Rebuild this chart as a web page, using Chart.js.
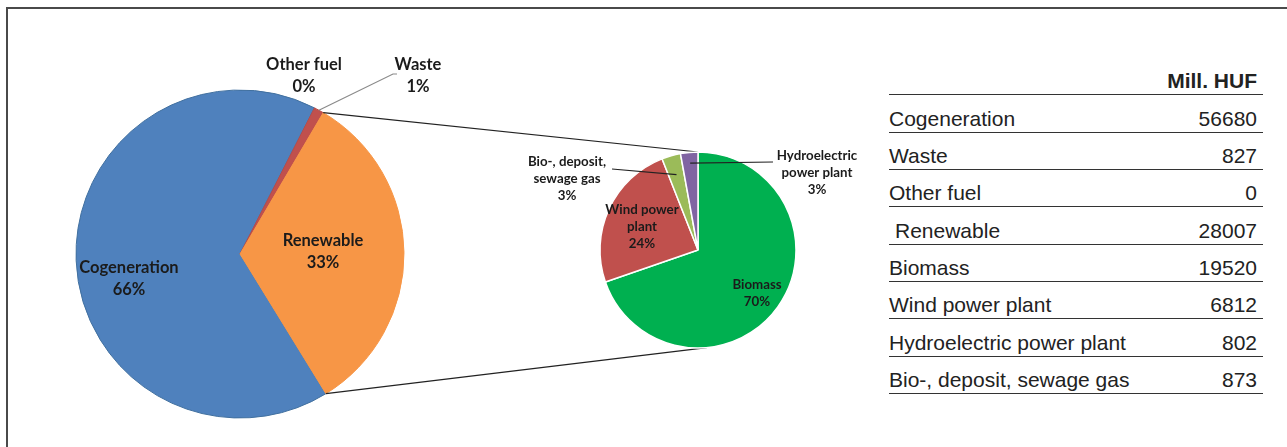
<!DOCTYPE html>
<html>
<head>
<meta charset="utf-8">
<title>Subsidy by source</title>
<script src="https://cdn.jsdelivr.net/npm/chart.js@4.4.1/dist/chart.umd.min.js"></script>
<style>
  html, body { margin: 0; padding: 0; background: #fff; }
  body { width: 1287px; height: 447px; position: relative; overflow: hidden; }
  .frame {
    position: absolute; left: 6px; top: 7px; right: 0; bottom: 0;
    border-top: 2px solid #4a4a4a; border-left: 2px solid #4a4a4a;
  }
  canvas { position: absolute; left: 0; top: 0; }
  #costTable {
    position: absolute; left: 889px; top: 58px; width: 374px;
    font-family: "Liberation Sans", Arial, sans-serif; font-size: 21px; color: #222;
  }
  #costTable .row {
    display: flex; justify-content: space-between; align-items: flex-end;
    height: 37.33px; box-sizing: border-box; border-bottom: 1.5px solid #333;
    padding: 0 6px 1px 0; line-height: 24px;
  }
  #costTable .head { font-weight: bold; justify-content: flex-end; }
</style>
</head>
<body>
<div class="frame"></div>
<canvas id="mainPie" width="880" height="447"></canvas>
<canvas id="subPie" width="880" height="447"></canvas>
<div id="costTable"></div>

<script>
const mainLabels = ['Cogeneration', 'Waste', 'Other fuel', 'Renewable'];
const mainValues = [56680, 827, 0, 28007];
const mainColors = ['#4f81bd', '#c0504d', '#9bbb59', '#f79646'];

const subLabels = ['Biomass', 'Wind power plant', 'Hydroelectric power plant', 'Bio-, deposit, sewage gas'];
const subValues = [19520, 6812, 802, 873];
const subColors = ['#00b050', '#c0504d', '#8064a2', '#9bbb59'];
// label text as it is wrapped on the small pie
const subWrapped = ['Biomass', 'Wind power\nplant', 'Hydroelectric\npower plant', 'Bio-, deposit,\nsewage gas'];
// clockwise order of the slices in the small pie
const subOrder = [0, 1, 3, 2];

const tableHeader = 'Mill. HUF';

// table on the right
const table = document.getElementById('costTable');
const head = document.createElement('div');
head.className = 'row head';
head.textContent = tableHeader;
table.appendChild(head);
mainLabels.concat(subLabels).forEach(function(name, i) {
    const row = document.createElement('div');
    row.className = 'row';
    const label = document.createElement('span');
    label.textContent = name;
    if (name === 'Renewable') label.style.paddingLeft = '6px';
    const value = document.createElement('span');
    value.textContent = mainValues.concat(subValues)[i];
    row.appendChild(label);
    row.appendChild(value);
    table.appendChild(row);
});

// point on the rim (or inside) of an arc at a given angle
function rimPoint(arc, angle, frac) {
    const r = arc.outerRadius * (frac || 1);
    return { x: arc.x + Math.cos(angle) * r, y: arc.y + Math.sin(angle) * r };
}

const sliceLabels = {
    id: 'sliceLabels',
    afterDatasetsDraw(chart, args, opts) {
        const ctx = chart.ctx;
        const meta = chart.getDatasetMeta(0);
        const values = chart.data.datasets[0].data;
        const total = values.reduce((a, b) => a + b, 0);
        ctx.save();

        // leader lines first, text on top
        ctx.lineWidth = 1.2;
        (opts.leaders || []).forEach(function(l) {
            const arc = meta.data[l.index];
            const mid = (arc.startAngle + arc.endAngle) / 2;
            const p = rimPoint(arc, mid, l.frac);
            ctx.strokeStyle = l.color;
            ctx.beginPath();
            ctx.moveTo(arc.x + l.from[0], arc.y + l.from[1]);
            if (l.via) ctx.lineTo(arc.x + l.via[0], arc.y + l.via[1]);
            ctx.lineTo(p.x, p.y);
            ctx.stroke();
        });

        ctx.font = opts.font;
        ctx.fillStyle = '#1b1b1b';
        ctx.textAlign = 'center';
        ctx.textBaseline = 'middle';
        meta.data.forEach(function(arc, i) {
            const spot = opts.spots[i];
            const lines = opts.text[i].split('\n');
            lines.push(Math.round(values[i] / total * 100) + '%');
            const top = arc.y + spot[1] - (lines.length - 1) * opts.lineHeight / 2;
            lines.forEach(function(t, k) {
                ctx.fillText(t, arc.x + spot[0], top + k * opts.lineHeight);
            });
        });
        ctx.restore();
    }
};

// lines joining the Renewable slice to the small pie
const pieConnectors = {
    id: 'pieConnectors',
    afterDatasetsDraw(chart) {
        const sub = Chart.getChart('subPie');
        if (!sub) return;
        const big = chart.getDatasetMeta(0).data[3];
        const small = sub.getDatasetMeta(0).data[0];
        const a1 = rimPoint(big, big.startAngle);
        const a2 = rimPoint(big, big.endAngle);
        const b1 = rimPoint(small, small.startAngle);
        const b2 = rimPoint(small, Math.PI / 2 - 0.09);
        const ctx = chart.ctx;
        ctx.save();
        ctx.strokeStyle = '#222';
        ctx.lineWidth = 1.2;
        ctx.beginPath();
        ctx.moveTo(a1.x, a1.y);
        ctx.lineTo(b1.x, b1.y);
        ctx.moveTo(a2.x, a2.y);
        ctx.lineTo(b2.x, b2.y);
        ctx.stroke();
        ctx.restore();
    }
};

new Chart(document.getElementById('subPie'), {
    type: 'pie',
    data: {
        labels: subOrder.map(i => subLabels[i]),
        datasets: [{
            data: subOrder.map(i => subValues[i]),
            backgroundColor: subOrder.map(i => subColors[i]),
            borderColor: '#ffffff',
            borderWidth: 1.5
        }]
    },
    options: {
        responsive: false,
        animation: false,
        events: [],
        radius: 98,
        rotation: 0,
        layout: { padding: { left: 580, right: 64, top: 140, bottom: 87 } },
        plugins: {
            legend: { display: false },
            tooltip: { enabled: false },
            sliceLabels: {
                font: 'bold 13.3px Lato',
                lineHeight: 17,
                text: subOrder.map(i => subWrapped[i]),
                spots: [[59, 43], [-56, -23], [-131, -71], [119, -77]],
                leaders: [
                    { index: 2, from: [-86, -81], frac: 0.8, color: '#222' },
                    { index: 3, from: [75, -88], frac: 0.89, color: '#222' }
                ]
            }
        }
    },
    plugins: [sliceLabels]
});

new Chart(document.getElementById('mainPie'), {
    type: 'pie',
    data: {
        labels: mainLabels,
        datasets: [{
            data: mainValues,
            backgroundColor: mainColors,
            borderColor: ['#41709f', '#b84a47', '#9bbb59', '#f79646'],
            borderWidth: 1
        }]
    },
    options: {
        responsive: false,
        animation: false,
        events: [],
        radius: 164,
        rotation: 148.4,
        layout: { padding: { left: 60, right: 460, top: 80, bottom: 19 } },
        plugins: {
            legend: { display: false },
            tooltip: { enabled: false },
            sliceLabels: {
                font: 'bold 16.5px Lato',
                lineHeight: 22,
                text: mainLabels,
                spots: [[-111, 25], [178, -178], [64, -178], [83, -2]],
                leaders: [
                    { index: 1, from: [157, -180], via: [153, -180], frac: 1, color: '#8a8a8a' }
                ]
            }
        }
    },
    plugins: [sliceLabels, pieConnectors]
});
</script>
</body>
</html>
